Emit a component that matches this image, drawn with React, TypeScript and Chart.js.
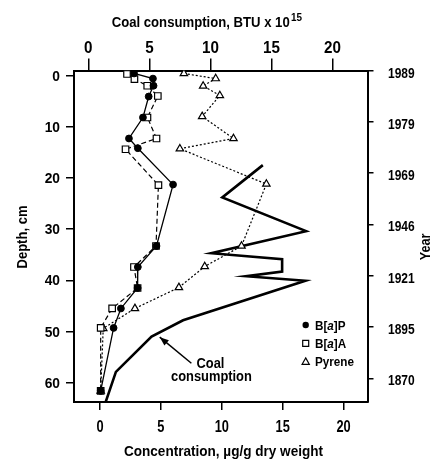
import React, { useEffect, useRef } from 'react';
import { Chart, registerables } from 'chart.js';

Chart.register(...registerables);

const FONT = '"Liberation Sans", Arial, Helvetica, sans-serif';

// Concentration (µg/g dry weight) vs depth (cm)
const bapConc = [2.8, 4.35, 4.4, 4.0, 3.53, 2.38, 3.11, 6.0, 4.64, 3.11, 3.09, 1.72, 1.12, 0.06];
const bapDepth = [-0.4, 0.6, 2.0, 4.1, 8.2, 12.3, 14.2, 21.3, 33.3, 37.4, 41.5, 45.5, 49.3, 61.6];

const baaConc = [2.22, 2.83, 3.88, 4.75, 3.9, 4.64, 2.1, 4.8, 4.6, 2.79, 3.09, 1.0, 0.06, 0.06];
const baaDepth = [-0.3, 0.7, 2.0, 4.0, 8.2, 12.3, 14.4, 21.4, 33.3, 37.4, 41.5, 45.5, 49.3, 61.6];

const pyrConc = [6.89, 9.5, 8.47, 9.84, 8.39, 10.96, 6.56, 13.66, 11.62, 8.6, 6.48, 2.87, 0.27, 0.06];
const pyrDepth = [-0.4, 0.6, 2.05, 3.9, 8.0, 12.3, 14.3, 21.2, 33.3, 37.3, 41.4, 45.5, 49.4, 61.6];

// Coal consumption (BTU x 10^15) vs depth (cm)
const coalBtu = [14.29, 10.97, 17.83, 10.07, 15.87, 15.87, 12.93, 17.77, 7.76, 5.18, 2.26, 1.39];
const coalDepth = [17.5, 23.8, 30.4, 34.7, 35.9, 38.3, 39.2, 40.1, 47.8, 51.0, 57.9, 64.0];

const depthTicks = [0, 10, 20, 30, 40, 50, 60];
const depthLabels = ['0', '10', '20', '30', '40', '50', '60'];
const yearLabels = ['1989', '1979', '1969', '1946', '1921', '1895', '1870'];
const concTicks = [0, 5, 10, 15, 20];
const concLabels = ['0', '5', '10', '15', '20'];
const coalTicks = [0, 5, 10, 15, 20];
const coalLabels = ['0', '5', '10', '15', '20'];

const legendItems = [
  { style: 'circle', parts: [['B[', false], ['a', true], [']P', false]] },
  { style: 'rect', parts: [['B[', false], ['a', true], [']A', false]] },
  { style: 'triangle', parts: [['Pyrene', false]] },
];

function pts(xs: number[], ys: number[]) {
  return xs.map((x, i) => ({ x, y: ys[i] }));
}

function txt(
  ctx: CanvasRenderingContext2D,
  text: string,
  x: number,
  y: number,
  size: number,
  sx: number,
  align: CanvasTextAlign,
  italic = false,
  rot = 0,
) {
  ctx.save();
  ctx.font = `${italic ? 'italic ' : ''}bold ${size}px ${FONT}`;
  ctx.textAlign = align;
  ctx.textBaseline = 'alphabetic';
  ctx.translate(x, y);
  if (rot) ctx.rotate(rot);
  ctx.scale(sx, 1);
  ctx.fillStyle = '#000';
  ctx.fillText(text, 0, 0);
  ctx.restore();
}

function fitScale(ctx: CanvasRenderingContext2D, text: string, size: number, target: number) {
  ctx.save();
  ctx.font = `bold ${size}px ${FONT}`;
  const w = ctx.measureText(text).width;
  ctx.restore();
  return w > 0 ? target / w : 1;
}

function drawMarker(ctx: CanvasRenderingContext2D, style: string, x: number, y: number) {
  ctx.save();
  ctx.lineWidth = 1.2;
  ctx.strokeStyle = '#000';
  ctx.beginPath();
  if (style === 'circle') {
    ctx.arc(x, y, 3.2, 0, Math.PI * 2);
    ctx.fillStyle = '#000';
    ctx.fill();
  } else if (style === 'rect') {
    ctx.rect(x - 3, y - 3, 6, 6);
    ctx.fillStyle = '#fff';
    ctx.fill();
    ctx.stroke();
  } else {
    ctx.moveTo(x, y - 3.8);
    ctx.lineTo(x + 3.6, y + 2.6);
    ctx.lineTo(x - 3.6, y + 2.6);
    ctx.closePath();
    ctx.fillStyle = '#fff';
    ctx.fill();
    ctx.stroke();
  }
  ctx.restore();
}

const overlayPlugin = {
  id: 'overlay',
  afterDraw(chart: any) {
    const ctx: CanvasRenderingContext2D = chart.ctx;
    const { x, x2, y, y2 } = chart.scales;

    // Tick labels, placed through the library's scales
    concTicks.forEach((v, i) => txt(ctx, concLabels[i], x.getPixelForValue(v), 431.5, 16, 0.8, 'center'));
    coalTicks.forEach((v, i) => txt(ctx, coalLabels[i], x2.getPixelForValue(v), 53, 16, 0.95, 'center'));
    depthTicks.forEach((v, i) => txt(ctx, depthLabels[i], 60, y.getPixelForValue(v) + 5, 14.5, 0.95, 'right'));
    depthTicks.forEach((v, i) => txt(ctx, yearLabels[i], 388, y2.getPixelForValue(v) + 7, 15, 0.8, 'left'));

    // Top title with superscript
    const mainT = 'Coal consumption, BTU x 10';
    txt(ctx, mainT, 111.7, 27.3, 15.5, fitScale(ctx, mainT, 15.5, 178), 'left');
    txt(ctx, '15', 291, 20.7, 11, 0.9, 'left');

    // Bottom title
    const botT = 'Concentration, µg/g dry weight';
    txt(ctx, botT, 124, 455.5, 14, fitScale(ctx, botT, 14, 199), 'left');

    // Left title
    const leftT = 'Depth, cm';
    txt(ctx, leftT, 27, 237, 14, fitScale(ctx, leftT, 14, 63), 'center', false, -Math.PI / 2);

    // Right title
    txt(ctx, 'Year', 430, 247, 14, 0.9, 'center', false, -Math.PI / 2);

    // Legend
    const lx = 305.7;
    const ly = [325, 343.3, 361.7];
    legendItems.forEach((it, i) => {
      drawMarker(ctx, it.style, lx, ly[i]);
      let tx = 315;
      it.parts.forEach(([t, ital]) => {
        const s = t as string;
        txt(ctx, s, tx, ly[i] + 4.6, 13, 0.9, 'left', ital as boolean);
        ctx.save();
        ctx.font = `${ital ? 'italic ' : ''}bold 13px ${FONT}`;
        tx += ctx.measureText(s).width * 0.9;
        ctx.restore();
      });
    });

    // Annotation: "Coal consumption" with arrow
    const tX = x2.getPixelForValue(10.0);
    txt(ctx, 'Coal', tX, y.getPixelForValue(57.1), 14, 0.92, 'center');
    txt(ctx, 'consumption', tX + 1, y.getPixelForValue(59.6), 14, 0.92, 'center');

    const hx = x2.getPixelForValue(5.85), hy = y.getPixelForValue(51.1);
    const sx = x2.getPixelForValue(8.44), sy = y.getPixelForValue(56.2);
    ctx.save();
    ctx.strokeStyle = '#000';
    ctx.lineWidth = 1.5;
    ctx.beginPath();
    ctx.moveTo(sx, sy);
    ctx.lineTo(hx, hy);
    ctx.stroke();
    const ang = Math.atan2(hy - sy, hx - sx);
    const L = 9, W = 3.5;
    ctx.beginPath();
    ctx.moveTo(hx, hy);
    ctx.lineTo(hx - L * Math.cos(ang) + W * Math.sin(ang), hy - L * Math.sin(ang) - W * Math.cos(ang));
    ctx.lineTo(hx - L * Math.cos(ang) - W * Math.sin(ang), hy - L * Math.sin(ang) + W * Math.cos(ang));
    ctx.closePath();
    ctx.fillStyle = '#000';
    ctx.fill();
    ctx.restore();
  },
};

function axisCommon(tickLength: number) {
  return {
    type: 'linear' as const,
    grid: { drawOnChartArea: false, drawTicks: true, tickLength, color: '#000', lineWidth: 1.5 },
    border: { display: true, color: '#000', width: 2 },
    ticks: { display: false, autoSkip: false },
  };
}

export default function App() {
  const ref = useRef<HTMLCanvasElement | null>(null);

  useEffect(() => {
    const canvas = ref.current;
    if (!canvas) return;
    const chart = new Chart(canvas, {
      type: 'scatter',
      data: {
        datasets: [
          {
            label: 'B[a]P',
            data: pts(bapConc, bapDepth),
            xAxisID: 'x',
            yAxisID: 'y',
            showLine: true,
            borderColor: '#000',
            borderWidth: 1.3,
            pointStyle: 'circle',
            pointRadius: 3.4,
            pointBackgroundColor: '#000',
            pointBorderColor: '#000',
            pointBorderWidth: 1,
          },
          {
            label: 'B[a]A',
            data: pts(baaConc, baaDepth),
            xAxisID: 'x',
            yAxisID: 'y',
            showLine: true,
            borderColor: '#000',
            borderWidth: 1.2,
            borderDash: [5, 3],
            pointStyle: 'rect',
            pointRadius: 4.6,
            pointBackgroundColor: '#fff',
            pointBorderColor: '#000',
            pointBorderWidth: 1.2,
          },
          {
            label: 'Pyrene',
            data: pts(pyrConc, pyrDepth),
            xAxisID: 'x',
            yAxisID: 'y',
            showLine: true,
            borderColor: '#000',
            borderWidth: 1.2,
            borderDash: [2, 2],
            pointStyle: 'triangle',
            pointRadius: 4.3,
            pointBackgroundColor: '#fff',
            pointBorderColor: '#000',
            pointBorderWidth: 1.2,
          },
          {
            label: 'Coal consumption',
            data: pts(coalBtu, coalDepth),
            xAxisID: 'x2',
            yAxisID: 'y',
            showLine: true,
            borderColor: '#000',
            borderWidth: 2.6,
            pointRadius: 0,
          },
        ],
      },
      options: {
        responsive: false,
        animation: false,
        layout: { padding: 0, autoPadding: false },
        plugins: { legend: { display: false }, tooltip: { enabled: false }, title: { display: false } },
        scales: {
          x: {
            ...axisCommon(8),
            position: 'bottom',
            min: -2.13,
            max: 21.96,
            afterBuildTicks: (s: any) => { s.ticks = concTicks.map((v) => ({ value: v })); },
            afterFit: (s: any) => { s.height = 58; },
          },
          x2: {
            ...axisCommon(12),
            position: 'top',
            min: -1.17,
            max: 22.86,
            afterBuildTicks: (s: any) => { s.ticks = coalTicks.map((v) => ({ value: v })); },
            afterFit: (s: any) => { s.height = 70.5; },
          },
          y: {
            ...axisCommon(8),
            position: 'left',
            reverse: true,
            min: -0.98,
            max: 63.77,
            afterBuildTicks: (s: any) => { s.ticks = depthTicks.map((v) => ({ value: v })); },
            afterFit: (s: any) => { s.width = 74; },
          },
          y2: {
            ...axisCommon(6),
            position: 'right',
            reverse: true,
            min: 0,
            max: 64.6,
            afterBuildTicks: (s: any) => { s.ticks = depthTicks.map((v) => ({ value: v })); },
            afterFit: (s: any) => { s.width = 65.5; },
          },
        },
      },
      plugins: [overlayPlugin],
    } as any);
    return () => chart.destroy();
  }, []);

  return (
    <div style={{ position: 'fixed', left: 0, top: 0, width: 433, height: 460, background: '#fff' }}>
      <canvas ref={ref} width={433} height={460} style={{ display: 'block', width: 433, height: 460 }} />
    </div>
  );
}
